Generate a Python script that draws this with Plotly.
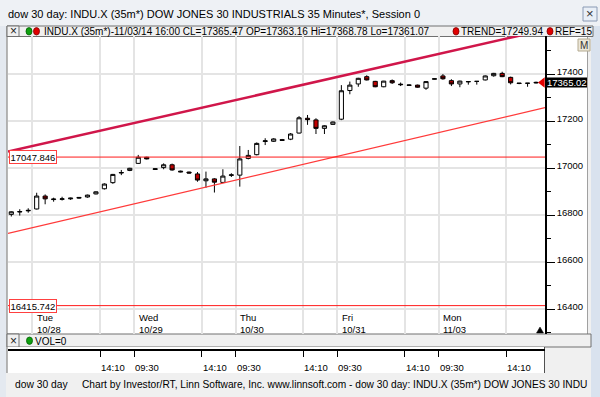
import plotly.graph_objects as go

W, H = 600, 397
def px(x): return x / W
def py(y): return 1 - y / H

# ---------------- data ----------------
bar_index = list(range(63))
opens  = [16804, 16814, 16819, 16827, 16882, 16867, 16868, 16870, 16873, 16878, 16891, 16913, 16939, 16980, 16991,
          17021, 17047, 16995, 17003, 17015, 16988, 16984, 16976, 16947, 16955, 16940, 16970,
          16971, 17042, 17058, 17114, 17115, 17122, 17124, 17150, 17213, 17206, 17170, 17187,
          17209, 17331, 17359, 17390, 17370, 17347, 17373, 17358, 17355, 17354, 17341, 17379,
          17393, 17373, 17359, 17368, 17370, 17376, 17394, 17404, 17387, 17363, 17362, 17363.16]
highs  = [16817, 16826, 16830, 16896, 16889, 16875, 16879, 16875, 16878, 16888, 16902, 16936, 16976, 16993, 17002,
          17057, 17049, 17000, 17021, 17020, 16990, 16986, 16984, 16986, 16958, 16996, 16979,
          17095, 17078, 17110, 17128, 17128, 17125, 17150, 17222, 17227, 17213, 17183, 17199,
          17354, 17369, 17385, 17396, 17372, 17372, 17378, 17365, 17358, 17356, 17371, 17383,
          17401, 17379, 17373, 17371, 17371, 17395, 17406, 17411, 17390, 17363, 17363, 17368.78]
lows   = [16795, 16799, 16811, 16825, 16847, 16858, 16863, 16866, 16870, 16875, 16889, 16910, 16934, 16971, 16988,
          17019, 17038, 16993, 16996, 16990, 16983, 16978, 16943, 16917, 16897, 16937, 16963,
          16922, 17038, 17055, 17099, 17112, 17117, 17120, 17148, 17185, 17146, 17146, 17185,
          17205, 17315, 17347, 17374, 17345, 17345, 17359, 17350, 17351, 17343, 17334, 17378,
          17377, 17350, 17345, 17356, 17356, 17374, 17390, 17388, 17357, 17358, 17347, 17361.07]
closes = [16815, 16816, 16821, 16882, 16870, 16869, 16870, 16873, 16876, 16886, 16900, 16933, 16974, 16982, 17000,
          17047, 17040, 16998, 17015, 16993, 16985, 16980, 16950, 16955, 16941, 16967, 16972,
          17040, 17055, 17106, 17117, 17125, 17119, 17146, 17215, 17207, 17170, 17181, 17197,
          17330, 17354, 17383, 17376, 17347, 17371, 17364, 17356, 17353, 17345, 17369, 17381,
          17381, 17359, 17371, 17369, 17370, 17393, 17404, 17390, 17364, 17361, 17362, 17365.47]

day_names = ["Tue", "Wed", "Thu", "Fri", "Mon"]
day_dates = ["10/28", "10/29", "10/30", "10/31", "11/03"]
session_start = [3, 15, 27, 39, 51]       # 09:30 bars
afternoon_bar = [11, 23, 35, 47, 59]      # 14:10 bars
time_ticks = [11, 15, 23, 27, 35, 39, 47, 51, 59]
time_labels = ["14:10", "09:30", "14:10", "09:30", "14:10", "09:30", "14:10", "09:30", "14:10"]

x_range = [-0.39, 63.06]
y_range = [16295, 17563]
y_major = [16400, 16600, 16800, 17000, 17200, 17400]
y_major_labels = ["16400", "16600", "16800", "17000", "17200", "17400"]

channel_x = [-0.39, 63.06]
upper_channel = [17071, 17589]
lower_channel = [16723, 17258]
ref_levels = [17047.846, 16415.742]
ref_labels = ["17047.846", "16415.742"]
last_value = 17365.02
last_label = "17365.02"

title_text = "dow 30 day: INDU.X (35m*) DOW JONES 30 INDUSTRIALS 35 Minutes*, Session 0"
legend_text = "INDU.X (35m*)-11/03/14 16:00 CL=17365.47 OP=17363.16 Hi=17368.78 Lo=17361.07"
trend_text = "TREND=17249.94"
ref_text = "REF=15"
vol_text = "VOL=0"
footer_left = "dow 30 day"
footer_text = "Chart by Investor/RT, Linn Software, Inc. www.linnsoft.com - dow 30 day: INDU.X (35m*) DOW JONES 30 INDU"

FONT = "Liberation Sans"

fig = go.Figure()

grid_x = sorted([s - 0.5 for s in session_start + afternoon_bar])

# channel lines
fig.add_trace(go.Scatter(x=channel_x, y=upper_channel, mode="lines",
                         line=dict(color="#d0164a", width=2.5), hoverinfo="skip", showlegend=False))
fig.add_trace(go.Scatter(x=channel_x, y=lower_channel, mode="lines",
                         line=dict(color="#ff3a3a", width=1.3), hoverinfo="skip", showlegend=False))
for lv in ref_levels:
    fig.add_trace(go.Scatter(x=x_range, y=[lv, lv], mode="lines",
                             line=dict(color="#ff1a1a", width=1), hoverinfo="skip", showlegend=False))

fig.add_trace(go.Candlestick(
    x=bar_index, open=opens, high=highs, low=lows, close=closes,
    increasing=dict(line=dict(color="#000000", width=1), fillcolor="#ffffff"),
    decreasing=dict(line=dict(color="#000000", width=1), fillcolor="#c00000"),
    whiskerwidth=0, showlegend=False, hoverinfo="skip"))

# last price marker
fig.add_trace(go.Scatter(x=[x_range[1] - 0.3], y=[last_value], mode="markers",
                         marker=dict(symbol="triangle-left", size=9, color="#e00000"),
                         cliponaxis=False, hoverinfo="skip", showlegend=False))

# dummy trace for lower time axis
fig.add_trace(go.Scatter(x=[x_range[0]], y=[0], xaxis="x2", yaxis="y2", mode="markers",
                         marker=dict(opacity=0), hoverinfo="skip", showlegend=False))

fig.update_layout(
    width=W, height=H,
    margin=dict(l=0, r=0, t=0, b=0),
    paper_bgcolor="#f0f0f0",
    plot_bgcolor="#ffffff",
    font=dict(family=FONT, size=10, color="#000000"),
    showlegend=False,
    xaxis=dict(domain=[px(8), px(545)], range=x_range, rangeslider=dict(visible=False),
               showgrid=True, gridcolor="#e4e4e4", gridwidth=1.5,
               tickmode="array", tickvals=grid_x, showticklabels=False, ticks="",
               zeroline=False, showline=False, fixedrange=True),
    yaxis=dict(domain=[py(334), py(36)], range=y_range, side="right",
               tickmode="array", tickvals=y_major, ticktext=y_major_labels,
               showgrid=True, gridcolor="#e4e4e4", gridwidth=1.5,
               ticks="outside", ticklen=8, tickwidth=1, tickcolor="#000000",
               minor=dict(dtick=100, tick0=0, ticks="outside", ticklen=4, tickcolor="#000000", showgrid=False),
               showline=True, linecolor="#000000", linewidth=1.5,
               tickfont=dict(family=FONT, size=9.5, color="#000000"),
               ticklabelshift=-3, zeroline=False, fixedrange=True),
    xaxis2=dict(domain=[px(8), px(545)], range=x_range, anchor="y2", side="top",
                showline=True, linecolor="#000000", linewidth=2,
                tickmode="array", tickvals=[t - 0.5 for t in time_ticks], showticklabels=False,
                ticks="inside", ticklen=6, tickcolor="#000000", tickwidth=1,
                showgrid=False, zeroline=False, fixedrange=True),
    yaxis2=dict(domain=[py(373), py(351)], range=[0, 1], visible=False, fixedrange=True),
)

shapes = []
def rect(x0, y0, x1, y1, fill, line=None, lw=1, layer="below"):
    shapes.append(dict(type="rect", xref="paper", yref="paper",
                       x0=px(x0), x1=px(x1), y0=py(y1), y1=py(y0),
                       fillcolor=fill, line=dict(color=line or fill, width=lw if line else 0), layer=layer))
def vline(x, y0, y1, color, lw=1, layer="below"):
    shapes.append(dict(type="line", xref="paper", yref="paper", x0=px(x), x1=px(x), y0=py(y0), y1=py(y1),
                       line=dict(color=color, width=lw), layer=layer))

# window frame
rect(0, 0, 600, 26, "#eef1f5")
rect(591, 26, 600, 397, "#d9e2ee")
rect(0, 26, 6, 397, "#e4e9f0")
# main white panel
rect(7, 36, 588, 334, "#ffffff")
vline(7, 36, 334, "#707070", 1)
vline(587.5, 36, 334, "#a0a0a0", 1)
# legend bar
rect(7, 26, 593, 36.5, "#f0f0f0", "#707070", 1)
rect(7, 26, 19, 36.5, "#f0f0f0", "#707070", 1)
# vol bar
rect(7, 334, 591, 347, "#f0f0f0", "#707070", 1)
rect(7, 334, 19, 347, "#f0f0f0", "#707070", 1)
# lower time axis panel
rect(7, 347, 544.5, 373, "#ffffff")
vline(544.5, 347, 373, "#505050", 1)
vline(7, 347, 373, "#707070", 1)
# close button
rect(583, 7, 597, 21, "#e9eff7", "#8a9ab4", 1)
# M button
rect(578, 39, 590, 51, "#ece7d9", "#b4aa90", 1, layer="above")

# last price box (black tag at right axis, centred on last value)
shapes.append(dict(type="rect", xref="paper", yref="y", x0=px(546), x1=px(587),
                   y0=last_value - 21, y1=last_value + 21, fillcolor="#000000",
                   line=dict(width=0), layer="above"))

# dots
def dot(cx, cy, color, edge):
    shapes.append(dict(type="circle", xref="paper", yref="paper", x0=px(cx - 3), x1=px(cx + 3),
                       y0=py(cy + 3.7), y1=py(cy - 3.7), fillcolor=color, line=dict(color=edge, width=0.8),
                       layer="above"))
dot(29, 31.3, "#10a010", "#006000")
dot(36.5, 31.3, "#e00000", "#800000")
dot(456, 31.3, "#e00000", "#800000")
dot(550, 31.3, "#e00000", "#800000")
dot(29.5, 340.7, "#10a010", "#006000")

# small triangle bottom right
shapes.append(dict(type="path", xref="paper", yref="paper",
                   path=f"M {px(536.5)},{py(333)} L {px(543.5)},{py(333)} L {px(540)},{py(327)} Z",
                   fillcolor="#000000", line=dict(color="#000000", width=0.5), layer="above"))

fig.update_layout(shapes=shapes)

ann = []
def text(x, y, s, size=10, anchor="left", color="#000000", **kw):
    ann.append(dict(xref="paper", yref="paper", x=px(x), y=py(y), text=s, showarrow=False,
                    xanchor=anchor, yanchor="middle", font=dict(family=FONT, size=size, color=color), **kw))

text(6, 14, title_text, size=11)
text(590, 14, "×", size=13, anchor="center", color="#333333")
text(13, 31, "×", size=12, anchor="center", color="#222222")
text(42, 31.5, legend_text, size=10)
text(459, 31.5, trend_text, size=10)
text(553, 31.5, ref_text, size=10)
text(584, 45, "M", size=10, anchor="center", color="#333333")
text(13, 340.5, "×", size=12, anchor="center", color="#222222")
text(32.5, 341, vol_text, size=10)
text(13, 384, footer_left, size=10.3)
text(80, 384, footer_text, size=10.2)

# date labels inside main plot
for s, dn, dd in zip(session_start, day_names, day_dates):
    ann.append(dict(xref="x", yref="paper", x=s - 0.5, y=py(323.5), xshift=2.5, text=f"{dn}<br>{dd}",
                    showarrow=False, xanchor="left", yanchor="middle", align="left",
                    font=dict(family=FONT, size=9.5, color="#000000")))
# lower time axis labels
for t, lab in zip(time_ticks, time_labels):
    ann.append(dict(xref="x2", yref="paper", x=t - 0.5, y=py(367), xshift=-1, text=lab,
                    showarrow=False, xanchor="left", yanchor="middle",
                    font=dict(family=FONT, size=9.5, color="#000000")))
# reference level labels
for lv, lab in zip(ref_levels, ref_labels):
    ann.append(dict(xref="paper", yref="y", x=px(8.5), y=lv, text=lab, showarrow=False,
                    xanchor="left", yanchor="middle", bgcolor="#ffffff", bordercolor="#ff4040",
                    borderwidth=1, borderpad=0.5, font=dict(family=FONT, size=9.5, color="#000000")))
# last price label text
ann.append(dict(xref="paper", yref="y", x=px(566.5), y=last_value, text=last_label, showarrow=False,
                xanchor="center", yanchor="middle", borderpad=0,
                font=dict(family=FONT, size=9.5, color="#ffffff")))

fig.update_layout(annotations=ann)
fig.write_html("out.html", config={"displayModeBar": False},
               post_script="document.body.style.margin='0';document.body.style.padding='0';")
